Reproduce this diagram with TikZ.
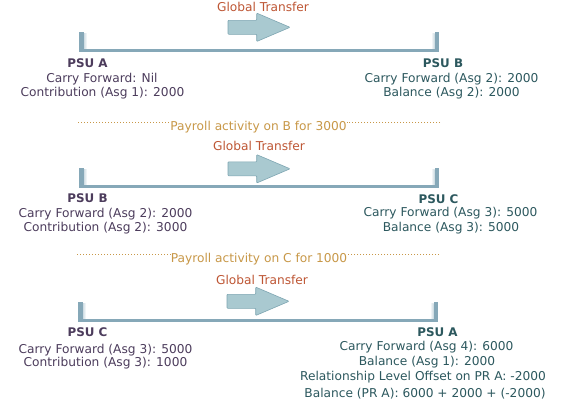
\documentclass[tikz,border=0pt]{standalone}
\usepackage{fontspec}
\setmainfont{DejaVu Sans}
\definecolor{leftc}{RGB}{76,60,92}
\definecolor{rightc}{RGB}{44,88,94}
\definecolor{gtc}{RGB}{190,86,52}
\definecolor{dotc}{RGB}{200,152,72}
\definecolor{barc}{RGB}{134,168,184}
\definecolor{arrfill}{RGB}{169,201,208}
\definecolor{arrdraw}{RGB}{126,166,178}
\tikzset{
  txt/.style={font=\fontsize{12.2}{14}\selectfont, inner sep=0pt, anchor=base},
  ltxt/.style={txt, text=leftc},
  rtxt/.style={txt, text=rightc},
  ltitle/.style={txt, text=leftc, font=\fontsize{11.9}{14}\selectfont\bfseries},
  rtitle/.style={txt, text=rightc, font=\fontsize{11.9}{14}\selectfont\bfseries},
  gtxt/.style={txt, text=gtc},
  ptxt/.style={txt, text=dotc},
  dotline/.style={draw=dotc, line width=1pt, dash pattern=on 1pt off 2pt},
  garrow/.pic={\draw[fill=arrfill, draw=arrdraw, line width=0.6pt, rounded corners=0.8pt]
     (-31,-7) -- (-2.3,-7) -- (-2.3,-14.2) -- (31,0) -- (-2.3,14.2) -- (-2.3,7) -- (-31,7) -- cycle;},
  bracket/.pic={
     \shade[left color=barc!45, right color=white] (83.5,-19) rectangle (87,-3);
     \shade[left color=white, right color=barc!45] (431,-19) rectangle (434.5,-3);
     \fill[barc] (79,-20.5) rectangle (83.5,0);
     \fill[barc] (79,-3) rectangle (439,0);
     \fill[barc] (434.5,-20.5) rectangle (439,0);}
}
\begin{document}
\begin{tikzpicture}[x=1pt, y=-1pt]
\useasboundingbox[fill=white] (0,0) rectangle (569,402);

% ---------- Row 1 ----------
\node[gtxt] (g1) at (263,11) {Global Transfer};
\pic at (259,27.3) {garrow};
\pic at (0,52.3) {bracket};
\node[ltitle] (a1t) at (87.5,67.5) {PSU A};
\node[ltxt] (a1l1) at (102,82.3) {Carry Forward: Nil};
\node[ltxt] (a1l2) at (102.5,96.3) {Contribution (Asg 1): 2000};
\node[rtitle] (b1t) at (443,67.5) {PSU B};
\node[rtxt] (b1l1) at (451.5,82.3) {Carry Forward (Asg 2): 2000};
\node[rtxt] (b1l2) at (451.5,96.3) {Balance (Asg 2): 2000};

% dotted separator 1
\coordinate (d1a) at (78,122.5);
\coordinate (d1b) at (440,122.5);
\node[ptxt] (p1) at (258.5,130) {Payroll activity on B for 3000};
\draw[dotline] (d1a) -- (d1a -| p1.west);
\draw[dotline] (d1b) -- (d1b -| p1.east);

% ---------- Row 2 ----------
\node[gtxt] (g2) at (259,150.5) {Global Transfer};
\pic at (259,168.8) {garrow};
\pic at (0,188) {bracket};
\node[ltitle] (b2t) at (87.5,202.8) {PSU B};
\node[ltxt] (b2l1) at (105.5,217.3) {Carry Forward (Asg 2): 2000};
\node[ltxt] (b2l2) at (105.5,231.3) {Contribution (Asg 2): 3000};
\node[rtitle] (c2t) at (438.5,203.3) {PSU C};
\node[rtxt] (c2l1) at (450.5,216.5) {Carry Forward (Asg 3): 5000};
\node[rtxt] (c2l2) at (451,231.3) {Balance (Asg 3): 5000};

% dotted separator 2
\coordinate (d2a) at (77,254.5);
\coordinate (d2b) at (439,254.5);
\node[ptxt] (p2) at (259,262) {Payroll activity on C for 1000};
\draw[dotline] (d2a) -- (d2a -| p2.west);
\draw[dotline] (d2b) -- (d2b -| p2.east);

% ---------- Row 3 ----------
\node[gtxt] (g3) at (262,284.5) {Global Transfer};
\pic at (258,301.3) {garrow};
\pic at (-1,322) {bracket};
\node[ltitle] (c3t) at (87.5,336.3) {PSU C};
\node[ltxt] (c3l1) at (105.5,353) {Carry Forward (Asg 3): 5000};
\node[ltxt] (c3l2) at (105.5,366.5) {Contribution (Asg 3): 1000};
\node[rtitle] (a3t) at (437.5,336.3) {PSU A};
\node[rtxt] (a3l1) at (426.5,350) {Carry Forward (Asg 4): 6000};
\node[rtxt] (a3l2) at (427,365.3) {Balance (Asg 1): 2000};
\node[rtxt] (a3l3) at (423,380.3) {Relationship Level Offset on PR A: -2000};
\node[rtxt] (a3l4) at (425,397.3) {Balance (PR A): 6000 + 2000 + (-2000)};
\end{tikzpicture}
\end{document}
